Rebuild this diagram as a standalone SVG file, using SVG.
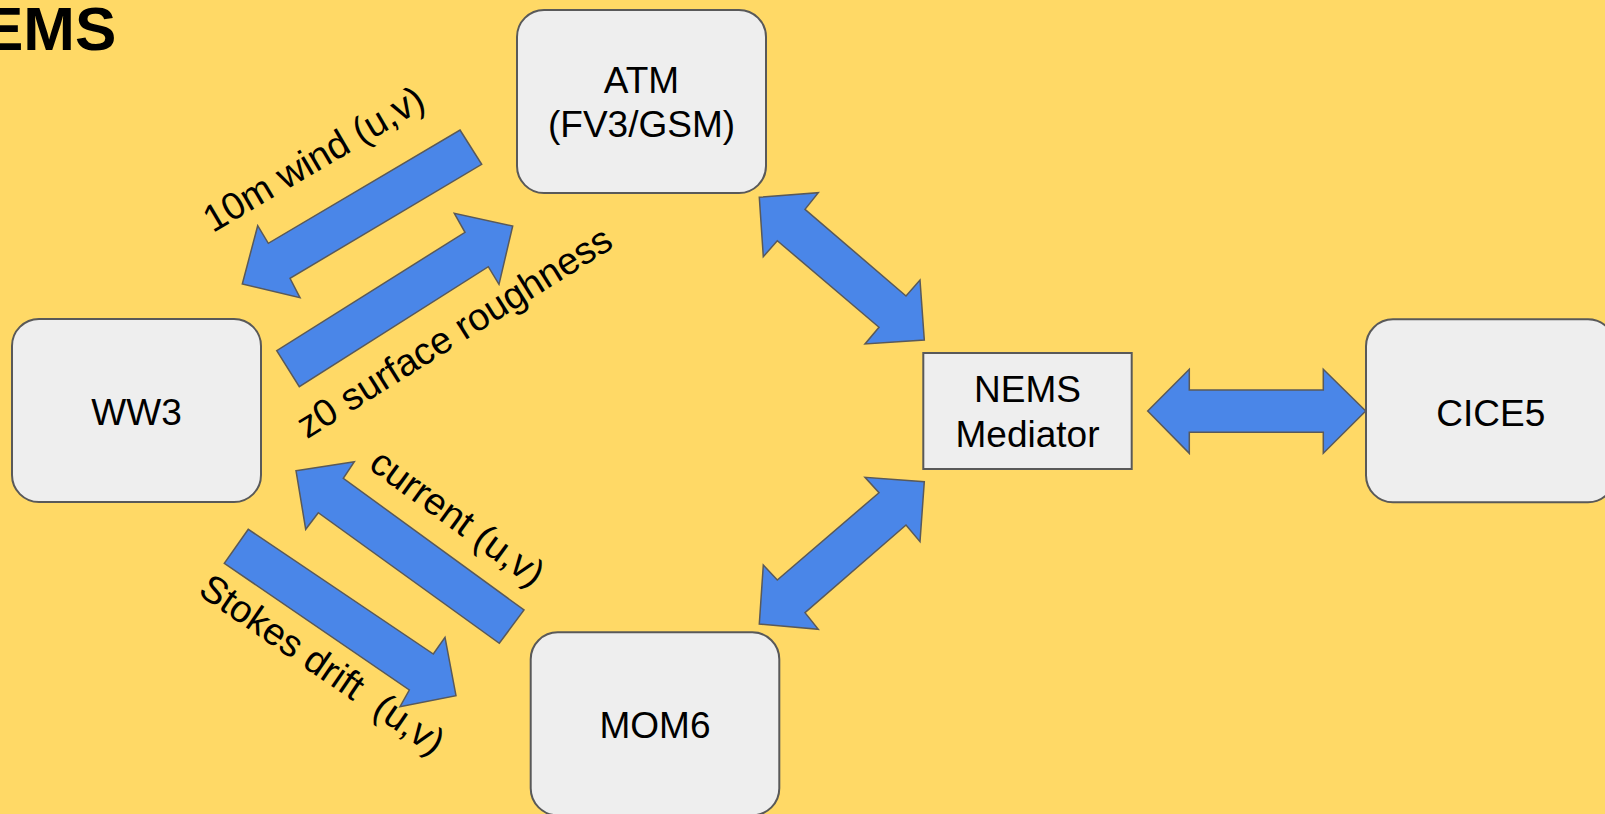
<svg xmlns="http://www.w3.org/2000/svg" width="1605" height="814" viewBox="0 0 1605 814">
<style>
.bg{fill:#ffd966}
.box{fill:#eeeeee;stroke:#595959;stroke-width:2}
.t{font-family:"Liberation Sans",Arial,sans-serif;font-size:37px;fill:#000;text-anchor:middle}
.lbl{font-family:"Liberation Sans",Arial,sans-serif;font-size:38px;fill:#000;text-anchor:middle}
.title{font-family:"Liberation Sans",Arial,sans-serif;font-size:62px;font-weight:bold;fill:#000}
.arr{fill:#4a86e8;stroke:#595959;stroke-width:1.5;stroke-linejoin:miter}
</style>
<rect class="bg" x="0" y="0" width="1605" height="814"/>
<text class="title" x="-18" y="50">EMS</text>

<g id="connectors">
  <polygon class="arr" points="460,130 481.7,164.3 290,278.3 300,297.7 242.3,284 257.7,225.7 268.3,243.3"/>
  <polygon class="arr" points="276.7,350.7 299.3,386.7 488.3,266.7 499,284.3 512.7,226 454.3,213.3 465,232.3"/>
  <polygon class="arr" points="296,470.7 354.3,461.7 343.3,478.3 524,610 499.3,643.3 318.3,512.7 305.7,529.3"/>
  <polygon class="arr" points="248.3,529.3 224.3,563.3 409.3,690 400,706.7 456,695.7 445,637.3 433.3,654"/>
  <polygon class="arr" points="759.3,197.3 818.3,192.7 805,209.3 906,296 920,280 924.3,340 865,344 879,327.3 777.3,240.7 763.3,256.7"/>
  <polygon class="arr" points="924.3,481.7 920,541.7 906,525 805,612.7 818.3,629.3 759.3,624 763.3,565 777.3,580 879,492.7 865,477.3"/>
  <polygon class="arr" points="1147.7,411 1189.3,369.3 1189.3,390 1323.3,390 1323.3,369.3 1365.7,411 1323.3,453.3 1323.3,432.3 1189.3,432.3 1189.3,453.3"/>
  <text class="lbl" transform="translate(320,170) rotate(-30.5)">10m wind (u,v)</text>
  <text class="lbl" transform="translate(461,343) rotate(-32)">z0 surface roughness</text>
  <text class="lbl" transform="translate(450,528) rotate(36)">current (u,v)</text>
  <text class="lbl" xml:space="preserve" transform="translate(315,675) rotate(34.5)">Stokes drift  (u,v)</text>
</g>

<g id="atm">
  <rect class="box" x="517" y="10" width="249" height="183" rx="27"/>
  <text class="t" x="641.5" y="93">ATM</text>
  <text class="t" x="641.5" y="137">(FV3/GSM)</text>
</g>
<g id="ww3">
  <rect class="box" x="12" y="319" width="249" height="183" rx="27"/>
  <text class="t" x="136.5" y="425">WW3</text>
</g>
<g id="nems">
  <rect class="box" x="923.3" y="353" width="208.4" height="116"/>
  <text class="t" x="1027.5" y="402">NEMS</text>
  <text class="t" x="1027.5" y="446.7">Mediator</text>
</g>
<g id="cice5">
  <rect class="box" x="1366" y="319.3" width="249" height="183" rx="27"/>
  <text class="t" x="1490.8" y="425.7">CICE5</text>
</g>
<g id="mom6">
  <rect class="box" x="530.7" y="632.3" width="248.6" height="183" rx="27"/>
  <text class="t" x="655" y="737.7">MOM6</text>
</g>
</svg>
